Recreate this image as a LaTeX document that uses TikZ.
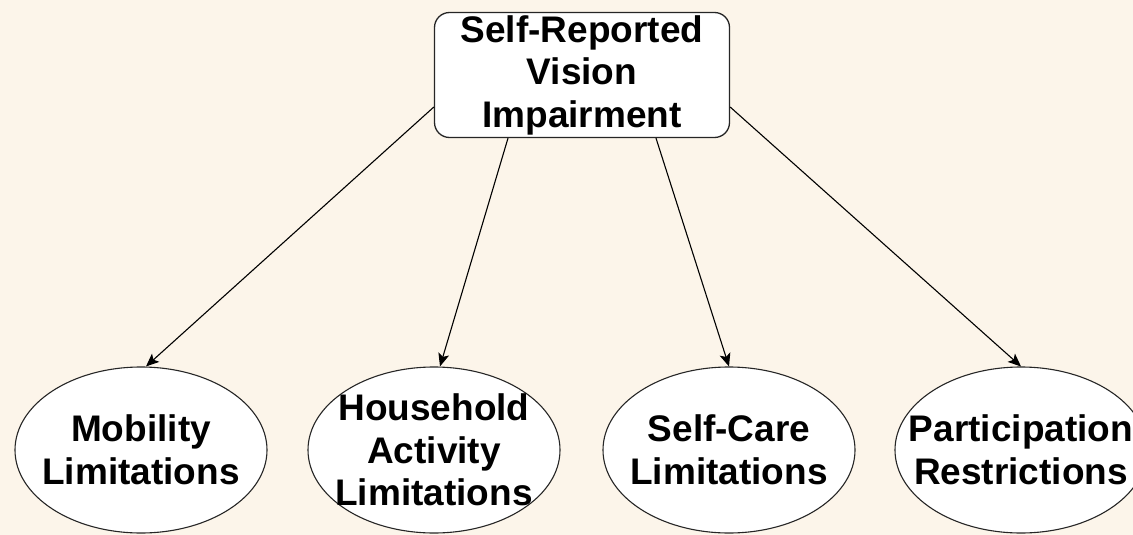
\documentclass[tikz,border=0pt]{standalone}
\usepackage{fontspec}
\setmainfont{Liberation Sans}
\usetikzlibrary{shapes.geometric,arrows.meta,calc}
\definecolor{bgcream}{RGB}{252,245,234}
\tikzset{
  labeltext/.style={align=center, inner sep=0pt,
    font=\bfseries\fontsize{37}{42.5}\selectfont},
  topbox/.style={draw=black!85, line width=1.3pt, fill=white, rounded corners=15pt,
    minimum width=295pt, minimum height=125pt, inner sep=0pt, align=center,
    font=\bfseries\fontsize{37}{42.5}\selectfont},
  outcome/.style={draw=black!85, line width=1.1pt, fill=white, ellipse,
    minimum width=252pt, minimum height=166pt, inner sep=0pt},
  link/.style={draw=black, line width=1.1pt, -{Stealth[length=13pt,width=11pt,inset=3pt]}}
}
\begin{document}
\begin{tikzpicture}[x=1pt,y=-1pt]
\fill[bgcream] (0,0) rectangle (1133,535);
\useasboundingbox (0,0) rectangle (1133,535);
\node[topbox] (top) at (582,75) {Self-Reported\\Vision\\Impairment};
\node[outcome, label={[labeltext]center:Mobility\\Limitations}] (mob) at (141,450) {};
\node[outcome, label={[labeltext]center:Household\\Activity\\Limitations}] (hh) at (434,450) {};
\node[outcome, label={[labeltext]center:Self-Care\\Limitations}] (sc) at (729,450) {};
\node[outcome, label={[labeltext]center:Participation\\Restrictions}] (pr) at (1021,450) {};
\coordinate (sL) at ($(top.west)+(0,32)$);
\coordinate (sBL) at ($(top.south)+(-74,0)$);
\coordinate (sBR) at ($(top.south)+(74,0)$);
\coordinate (sR) at ($(top.east)+(0,32)$);
\draw[link] (sL) -- ($(mob.north)+(5,0)$);
\draw[link] (sBL) -- ($(hh.north)+(6,0)$);
\draw[link] (sBR) -- (sc.north);
\draw[link] (sR) -- (pr.north);
\end{tikzpicture}
\end{document}
